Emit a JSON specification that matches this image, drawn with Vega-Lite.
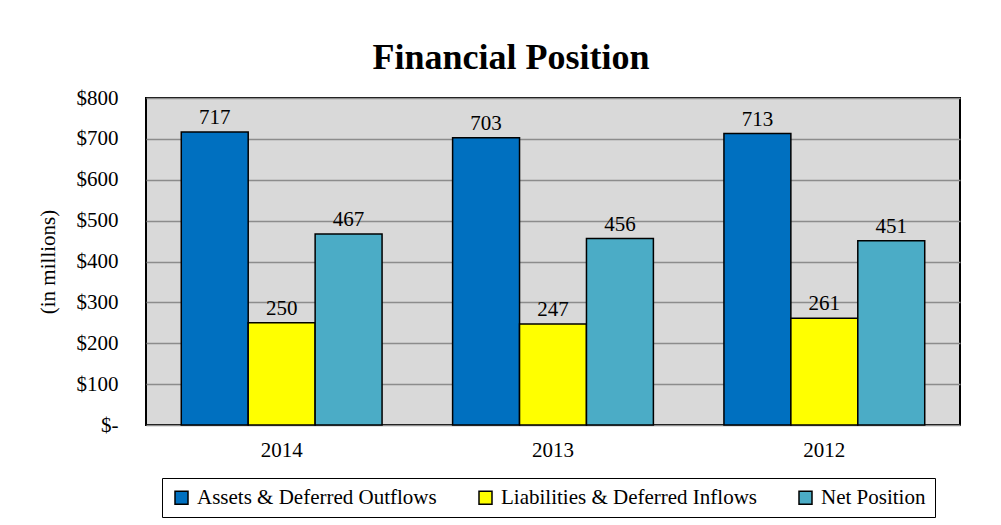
{
  "$schema": "https://vega.github.io/schema/vega-lite/v6.json",
  "autosize": {"type": "none"},
  "width": 814,
  "height": 327,
  "padding": {"left": 146, "top": 98, "right": 41, "bottom": 100},
  "background": "white",
  "config": {
    "font": "Liberation Serif",
    "view": {"fill": "#D9D9D9", "stroke": "black", "strokeWidth": 2}
  },
  "title": {
    "text": "Financial Position",
    "fontSize": 36,
    "fontWeight": "bold",
    "font": "Liberation Serif",
    "color": "black",
    "anchor": "middle",
    "dx": -42,
    "offset": 10
  },
  "data": {
    "values": [
      {"year": "2014", "series": "Assets & Deferred Outflows", "value": 717},
      {"year": "2014", "series": "Liabilities & Deferred Inflows", "value": 250},
      {"year": "2014", "series": "Net Position", "value": 467},
      {"year": "2013", "series": "Assets & Deferred Outflows", "value": 703},
      {"year": "2013", "series": "Liabilities & Deferred Inflows", "value": 247},
      {"year": "2013", "series": "Net Position", "value": 456},
      {"year": "2012", "series": "Assets & Deferred Outflows", "value": 713},
      {"year": "2012", "series": "Liabilities & Deferred Inflows", "value": 261},
      {"year": "2012", "series": "Net Position", "value": 451}
    ]
  },
  "encoding": {
    "x": {
      "field": "year",
      "type": "nominal",
      "sort": ["2014", "2013", "2012"],
      "scale": {"paddingInner": 0.26, "paddingOuter": 0.13},
      "axis": {
        "title": null,
        "labelAngle": 0,
        "labelFontSize": 21,
        "labelColor": "black",
        "labelPadding": 14,
        "ticks": false,
        "domain": false
      }
    },
    "xOffset": {
      "field": "series",
      "type": "nominal",
      "sort": ["Assets & Deferred Outflows", "Liabilities & Deferred Inflows", "Net Position"]
    },
    "y": {
      "field": "value",
      "type": "quantitative",
      "scale": {"domain": [0, 800]},
      "axis": {
        "title": "(in millions)",
        "titleFontSize": 21,
        "titleFontWeight": "normal",
        "titleColor": "black",
        "titlePadding": 18,
        "values": [0, 100, 200, 300, 400, 500, 600, 700, 800],
        "labelExpr": "datum.value == 0 ? '$-' : '$' + datum.value",
        "labelFontSize": 21,
        "labelColor": "black",
        "labelPadding": 28,
        "ticks": false,
        "domain": false,
        "gridColor": "#8c8c8c",
        "gridWidth": 1.5,
        "gridOpacity": 1
      }
    }
  },
  "layer": [
    {
      "mark": {"type": "bar", "stroke": "black", "strokeWidth": 1.5},
      "encoding": {
        "color": {
          "field": "series",
          "type": "nominal",
          "sort": ["Assets & Deferred Outflows", "Liabilities & Deferred Inflows", "Net Position"],
          "scale": {
            "domain": ["Assets & Deferred Outflows", "Liabilities & Deferred Inflows", "Net Position"],
            "range": ["#0070C0", "#FFFF00", "#4BACC6"]
          },
          "legend": {
            "title": null,
            "orient": "none",
            "direction": "horizontal",
            "legendX": 16,
            "legendY": 380,
            "strokeColor": "black",
            "fillColor": "white",
            "padding": 9,
            "labelFontSize": 21,
            "labelColor": "black",
            "labelFont": "Liberation Serif",
            "labelLimit": 0,
            "symbolType": "square",
            "symbolSize": 169,
            "symbolStrokeColor": "black",
            "symbolStrokeWidth": 1.5,
            "symbolOpacity": 1,
            "columnPadding": 38,
            "labelOffset": 5
          }
        }
      }
    },
    {
      "mark": {"type": "text", "baseline": "alphabetic", "dy": -8, "fontSize": 21, "color": "black"},
      "encoding": {
        "text": {"field": "value", "type": "quantitative"}
      }
    }
  ]
}
